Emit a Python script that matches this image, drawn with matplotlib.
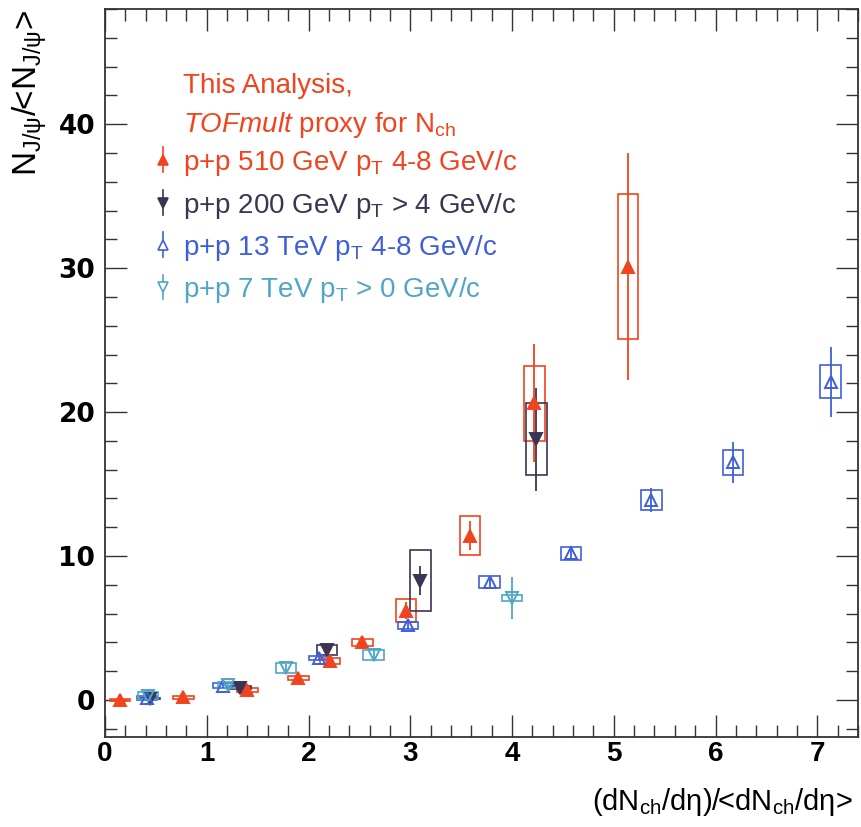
import matplotlib
matplotlib.use("Agg")
import matplotlib.pyplot as plt
from matplotlib.patches import Rectangle
from matplotlib.lines import Line2D
from matplotlib.ticker import MultipleLocator

plt.rcParams['font.family'] = ['Liberation Sans', 'DejaVu Sans']
plt.rcParams['mathtext.fontset'] = 'custom'
plt.rcParams['mathtext.rm'] = 'Liberation Sans'
plt.rcParams['mathtext.it'] = 'Liberation Sans:italic'
plt.rcParams['mathtext.bf'] = 'Liberation Sans:bold'

# ---------------- data ----------------
# p+p 510 GeV (this analysis)
x510 = [0.15, 0.77, 1.40, 1.90, 2.21, 2.53, 2.96, 3.59, 4.22, 5.14]
y510 = [0.0, 0.2, 0.7, 1.55, 2.7, 4.0, 6.2, 11.4, 20.6, 30.1]
stat510 = [0.1, 0.15, 0.2, 0.2, 0.25, 0.3, 0.6, 1.0, 4.1, 7.9]
sys510 = [0.1, 0.1, 0.15, 0.15, 0.2, 0.25, 0.8, 1.35, 2.6, 5.05]

# p+p 200 GeV
x200 = [0.44, 1.33, 2.18, 3.10, 4.24]
y200 = [0.1, 0.85, 3.5, 8.3, 18.1]
stat200 = [0.1, 0.15, 0.3, 1.0, 3.6]
sys200 = [0.05, 0.1, 0.35, 2.15, 2.5]

# p+p 13 TeV
x13 = [0.41, 1.16, 2.10, 2.98, 3.78, 4.58, 5.37, 6.17, 7.13]
y13 = [0.15, 1.0, 2.9, 5.2, 8.2, 10.2, 13.9, 16.5, 22.1]
stat13 = [0.1, 0.15, 0.2, 0.3, 0.4, 0.5, 0.85, 1.45, 2.45]
sys13 = [0.15, 0.15, 0.15, 0.25, 0.4, 0.45, 0.7, 0.85, 1.15]

# p+p 7 TeV
x7 = [0.42, 1.21, 1.78, 2.64, 4.00]
y7 = [0.3, 1.05, 2.2, 3.1, 7.1]
stat7 = [0.1, 0.15, 0.3, 0.4, 1.45]
sys7 = [0.25, 0.2, 0.35, 0.35, 0.2]

box_halfwidth = 0.1

labels = [r"p+p 510 GeV p$_{\rm T}$ 4-8 GeV/c",
          r"p+p 200 GeV p$_{\rm T}$ > 4 GeV/c",
          r"p+p 13 TeV p$_{\rm T}$ 4-8 GeV/c",
          r"p+p 7 TeV p$_{\rm T}$ > 0 GeV/c"]

c_red = '#F2431F'
c_dark = '#3A3552'
c_blue = '#3F5FDA'
c_cyan = '#4FA6C6'

series = [
    (x510, y510, stat510, sys510, c_red, '^', True),
    (x200, y200, stat200, sys200, c_dark, 'v', True),
    (x13, y13, stat13, sys13, c_blue, '^', False),
    (x7, y7, stat7, sys7, c_cyan, 'v', False),
]

# ---------------- figure ----------------
fig = plt.figure(figsize=(8.62, 8.27), dpi=100)
ax = fig.add_axes([105/862, (827-737)/827, (858-105)/862, (737-9)/827])
ax.set_xlim(0, 7.4)
ax.set_ylim(-2.57, 48.0)

for (xs, ys, st, sy, col, mk, filled) in series:
    for xi, yi, si, syi in zip(xs, ys, st, sy):
        ax.add_patch(Rectangle((xi - box_halfwidth, yi - syi), 2*box_halfwidth, 2*syi,
                               fill=False, edgecolor=col, lw=1.2, zorder=2))
    ax.errorbar(xs, ys, yerr=st, fmt='none', ecolor=col, elinewidth=1.3,
                capsize=0, zorder=3)
    ax.plot(xs, ys, linestyle='none', marker=mk, markersize=8.5,
            markerfacecolor=col if filled else 'none', markeredgecolor=col,
            markeredgewidth=1.4, zorder=4)

# ticks
ax.xaxis.set_major_locator(MultipleLocator(1))
ax.xaxis.set_minor_locator(MultipleLocator(0.2))
ax.yaxis.set_major_locator(MultipleLocator(10))
ax.yaxis.set_minor_locator(MultipleLocator(2))
ax.tick_params(which='both', direction='in', top=True, right=True, color='#333333', width=1.0)
ax.tick_params(which='major', length=16)
ax.tick_params(which='minor', length=8.5)
ax.tick_params(axis='x', which='major', pad=3)
ax.tick_params(axis='y', which='major', pad=7)
for sp in ax.spines.values():
    sp.set_color('#333333')
    sp.set_linewidth(1.3)

for lab in ax.get_xticklabels():
    lab.set_fontfamily(['Liberation Sans Narrow', 'Liberation Sans'])
    lab.set_fontweight('bold')
    lab.set_fontsize(20)
for lab in ax.get_yticklabels():
    lab.set_fontfamily(['DejaVu Sans'])
    lab.set_fontweight('bold')
    lab.set_fontsize(19)

# axis titles
fig.text(30/862, (827-10)/827, r"N$_{\mathrm{J/ψ}}$/<N$_{\mathrm{J/ψ}}$>",
         rotation=90, ha='center', va='top', fontsize=24)
fig.text(853/862, (827-810)/827, r"(dN$_{\mathrm{ch}}$/dη)/<dN$_{\mathrm{ch}}$/dη>",
         ha='right', va='baseline', fontsize=21,
         family=['Liberation Sans Narrow', 'Liberation Sans'])

# legend (drawn in axes fraction)
tx = 0.104
mx = 0.077
fs = 20
ax.text(tx, 0.885, "This Analysis,", transform=ax.transAxes, color=c_red,
        fontsize=fs, va='baseline', ha='left')
ax.text(tx, 0.831, r"$\mathit{TOFmult}$ proxy for N$_{\mathrm{ch}}$", transform=ax.transAxes,
        color=c_red, fontsize=fs, va='baseline', ha='left')
rows = [0.779, 0.720, 0.662, 0.604]
for (xs, ys, st, sy, col, mk, filled), lab, yr in zip(series, labels, rows):
    ax.text(tx, yr, lab, transform=ax.transAxes, color=col, fontsize=fs,
            va='baseline', ha='left')
    ym = yr + 0.014
    ax.add_line(Line2D([mx, mx], [ym - 0.017, ym + 0.017], transform=ax.transAxes,
                       color=col, lw=1.2))
    ax.add_line(Line2D([mx], [ym], transform=ax.transAxes, linestyle='none',
                       marker=mk, markersize=7,
                       markerfacecolor=col if filled else 'white',
                       markeredgecolor=col, markeredgewidth=1.2))

fig.savefig("out.png", dpi=100)
